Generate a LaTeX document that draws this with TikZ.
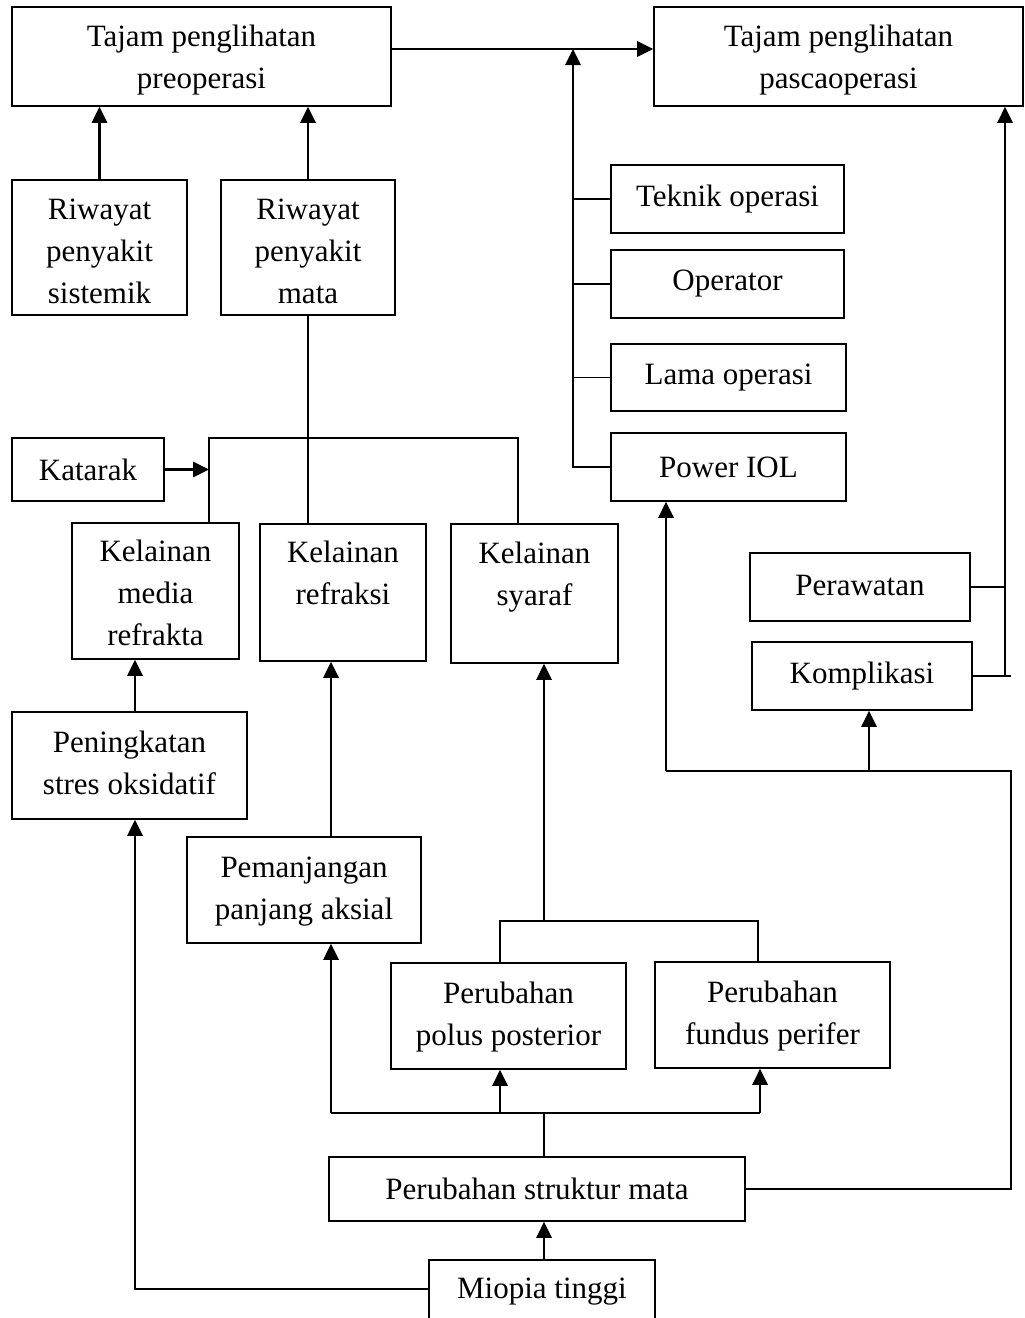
\documentclass[tikz,border=0pt]{standalone}
\usepackage{fontspec}
\setmainfont{Liberation Serif}
\usepackage{tikz}
\usetikzlibrary{arrows.meta}
\usetikzlibrary{positioning,calc}

% stacked lines, lowered a bit inside the box
\newcommand{\ml}[2][0pt]{\raisebox{-#1}[\height][\depth]{\begin{tabular}{@{}c@{}}#2\end{tabular}}}

\tikzset{
  box/.style={draw,line width=1.6pt,align=center,inner sep=2pt,font=\fontsize{31}{42}\selectfont},
  ln/.style={line width=1.6pt},
  arr/.style={line width=2.8pt,-{Triangle[length=16pt,width=15pt]}}
}

\begin{document}
\begin{tikzpicture}[line cap=butt,line join=miter,x=1pt,y=-1pt]
\useasboundingbox (0,0) rectangle (1025,1318);
\clip (0,0) rectangle (1025,1318);

% top row
\node[box,minimum width=379pt,minimum height=99pt] (pre) at (201.5,56.5) {\ml[3pt]{Tajam penglihatan\\preoperasi}};
\node[box,minimum width=369pt,minimum height=99pt] (pasca) at (838.5,56.5) {\ml[3pt]{Tajam penglihatan\\pascaoperasi}};

\node[box,minimum width=175pt,minimum height=135pt] (rps) at (99.5,247.5) {\ml[6pt]{Riwayat\\penyakit\\sistemik}};
\node[box,minimum width=174pt,minimum height=135pt] (rpm) at (308,247.5) {\ml[6pt]{Riwayat\\penyakit\\mata}};

% operasi factors
\node[box,minimum width=233pt,minimum height=68pt] (teknik) at (727.5,199) {Teknik operasi};
\node[box,minimum width=233pt,minimum height=68pt] (oper) at (727.5,284) {Operator};
\node[box,minimum width=235pt,minimum height=67pt] (lama) at (728.5,377.5) {Lama operasi};
\node[box,minimum width=235pt,minimum height=68pt] (power) at (728.5,467) {Power IOL};
\node[box,minimum width=220pt,minimum height=68pt] (rawat) at (860,587) {\raisebox{3pt}{Perawatan}};
\node[box,minimum width=220pt,minimum height=68pt] (kompl) at (862,676) {Komplikasi};

% kelainan
\node[box,minimum width=152pt,minimum height=63pt] (katarak) at (88,469.5) {Katarak};
\node[box,minimum width=167pt,minimum height=136pt] (media) at (155.5,591) {\ml[4pt]{Kelainan\\media\\refrakta}};
\node[box,minimum width=166pt,minimum height=137pt] (refr) at (343,592.5) {\ml[4pt]{Kelainan\\refraksi\\~}};
\node[box,minimum width=167pt,minimum height=139pt] (syaraf) at (534.5,593.5) {\ml[4pt]{Kelainan\\syaraf\\~}};

% perubahan
\node[box,minimum width=235pt,minimum height=107pt] (stres) at (129.5,765.5) {\ml{Peningkatan\\stres oksidatif}};
\node[box,minimum width=234pt,minimum height=106pt] (aksial) at (304,890) {\ml{Pemanjangan\\panjang aksial}};
\node[box,minimum width=235pt,minimum height=106pt] (polus) at (508.5,1016) {\ml{Perubahan\\polus posterior}};
\node[box,minimum width=235pt,minimum height=106pt] (fundus) at (772.5,1015) {\ml{Perubahan\\fundus perifer}};
\node[box,minimum width=416pt,minimum height=64pt] (struktur) at (537,1189) {Perubahan struktur mata};
\node[box,minimum width=226pt,minimum height=64pt,anchor=north] (miopia) at (542,1259) {Miopia tinggi};

% junctions
\coordinate (jop) at (573,49);
\coordinate (kb) at (209,438);
\coordinate (kc) at (518,438);
\coordinate (xs) at (135,1289);
\coordinate (xr) at (331,1113);
\coordinate (xm) at (544,1113);
\coordinate (xp) at (500,1113);
\coordinate (xf) at (760,1113);
\coordinate (pb) at (500,921);
\coordinate (pc) at (758,921);
\coordinate (ps) at (544,921);
\coordinate (rt) at (1011,771);
\coordinate (xi) at (666,771);
\coordinate (xk) at (869,771);
\coordinate (xq) at (1005,676);

% connectors
\draw[arr] ([yshift=7.5pt]pre.east) -- ([yshift=7.5pt]pasca.west);
\draw[arr] (rps.north) -- (rps.north |- pre.south);
\draw[arr] (rpm.north) -- (rpm.north |- pre.south);

\draw[arr] (power.west) -| (jop);
\draw[ln] (teknik.west) -- (teknik.west -| jop);
\draw[ln] (oper.west) -- (oper.west -| jop);
\draw[ln] (lama.west) -- (lama.west -| jop);

\draw[ln] (rawat.east) -- (rawat.east -| xq);
\draw[ln] (kompl.east) -- ++(38,0);
\draw[arr] (xq) -- (xq |- pasca.south);

\draw[ln] (rpm.south) -- (rpm.south |- refr.north);
\draw[ln] (kb |- media.north) -- (kb) -- (kc) -- (kc |- syaraf.north);
\draw[arr] (katarak.east) -- (kb |- katarak.east);

\draw[arr] (xs |- stres.north) -- (xs |- media.south);
\draw[arr] (miopia.west |- xs) -| (xs |- stres.south);
\draw[arr] (xr |- aksial.north) -- (xr |- refr.south);

\draw[arr] (xm |- miopia.north) -- (xm |- struktur.south);
\draw[ln] (xm |- struktur.north) -- (xm);
\draw[ln] (xr) -- (xf);
\draw[arr] (xr) -- (xr |- aksial.south);
\draw[arr] (xp) -- (xp |- polus.south);
\draw[arr] (xf) -- (xf |- fundus.south);

\draw[ln] (pb |- polus.north) -- (pb) -- (pc) -- (pc |- fundus.north);
\draw[arr] (ps) -- (ps |- syaraf.south);

\draw[ln] (struktur.east) -- (struktur.east -| rt) -- (rt) -- (xi);
\draw[arr] (xi) -- (xi |- power.south);
\draw[arr] (xk) -- (xk |- kompl.south);
\end{tikzpicture}
\end{document}
